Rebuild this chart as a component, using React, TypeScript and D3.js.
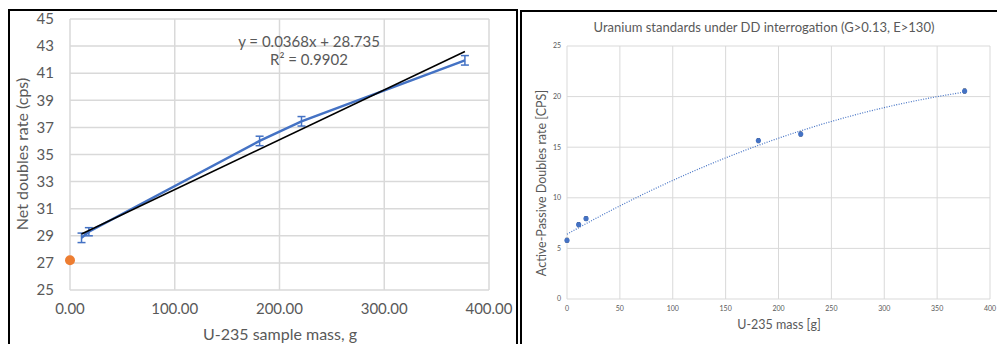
import React from "react";
import * as d3 from "d3";

// ---------- Left chart data ----------
const leftMass = [11, 18, 181, 221, 377];
const leftRate = [28.85, 29.3, 36.0, 37.45, 41.95];
const leftErr = [0.35, 0.3, 0.35, 0.35, 0.35];
const bgMass = [0];
const bgRate = [27.2];
const fitSlope = 0.0368;
const fitIntercept = 28.735;
const fitRange = [11, 377];
const leftYTicks = [25, 27, 29, 31, 33, 35, 37, 39, 41, 43, 45];
const leftXTicks = [0, 100, 200, 300, 400];

// ---------- Right chart data ----------
const rightMass = [0, 11, 18, 181, 221, 376];
const rightRate = [5.8, 7.35, 7.95, 15.65, 16.3, 20.55];
const rightErr = [0.2, 0.2, 0.2, 0.2, 0.2, 0.2];
const polyCoef = [6.4, 0.0589, -0.0000573];
const polyRange = [0, 376];
const rightYTicks = [0, 5, 10, 15, 20, 25];
const rightXTicks = [0, 50, 100, 150, 200, 250, 300, 350, 400];

const FONT = "Lato, 'Open Sans', sans-serif";
const GRAY = "#595959";
const GRID = "#d9d9d9";
const BLUE = "#4472C4";

function LeftChart() {
  const x = d3.scaleLinear().domain([0, 400]).range([70, 489]);
  const y = d3.scaleLinear().domain([25, 45]).range([290, 19]);
  const pts = leftMass.map((m, i) => [x(m), y(leftRate[i])] as [number, number]);
  const line = d3.line();
  return (
    <g>
      <rect x={9} y={10} width={508} height={340} fill="white" stroke="black" strokeWidth={2} />
      {leftYTicks.map((t) => (
        <line key={"gy" + t} x1={70} x2={489} y1={y(t)} y2={y(t)} stroke={GRID} strokeWidth={1.5} />
      ))}
      {leftXTicks.map((t) => (
        <line key={"gx" + t} x1={x(t)} x2={x(t)} y1={19} y2={290} stroke={GRID} strokeWidth={1.5} />
      ))}
      {leftYTicks.map((t) => (
        <text key={"ty" + t} x={54} y={y(t)} dy="0.35em" textAnchor="end" fontSize={15} fill={GRAY} fontFamily={FONT}>
          {t}
        </text>
      ))}
      {leftXTicks.map((t) => (
        <text key={"tx" + t} x={x(t)} y={309} dy="0.35em" textAnchor="middle" fontSize={15} fill={GRAY} fontFamily={FONT}>
          {t.toFixed(2)}
        </text>
      ))}
      <text x={280} y={334} dy="0.35em" textAnchor="middle" fontSize={16} fill={GRAY} fontFamily={FONT}>
        U-235 sample mass, g
      </text>
      <text
        transform={`translate(22,${154}) rotate(-90)`}
        dy="0.35em"
        textAnchor="middle"
        fontSize={16}
        fill={GRAY}
        fontFamily={FONT}
      >
        Net doubles rate (cps)
      </text>
      <path d={line(pts) || ""} fill="none" stroke={BLUE} strokeWidth={2.5} />
      {leftMass.map((m, i) => (
        <g key={"e" + i} stroke={BLUE} strokeWidth={1.5}>
          <line x1={x(m)} x2={x(m)} y1={y(leftRate[i] - leftErr[i])} y2={y(leftRate[i] + leftErr[i])} />
          <line x1={x(m) - 4} x2={x(m) + 4} y1={y(leftRate[i] - leftErr[i])} y2={y(leftRate[i] - leftErr[i])} />
          <line x1={x(m) - 4} x2={x(m) + 4} y1={y(leftRate[i] + leftErr[i])} y2={y(leftRate[i] + leftErr[i])} />
        </g>
      ))}
      <line
        x1={x(fitRange[0])}
        x2={x(fitRange[1])}
        y1={y(fitSlope * fitRange[0] + fitIntercept)}
        y2={y(fitSlope * fitRange[1] + fitIntercept)}
        stroke="black"
        strokeWidth={1.6}
      />
      {bgMass.map((m, i) => (
        <circle key={"bg" + i} cx={x(m)} cy={y(bgRate[i])} r={5} fill="#ED7D31" />
      ))}
      <text x={309} y={42} dy="0.35em" textAnchor="middle" fontSize={15} fill={GRAY} fontFamily={FONT}>
        y = 0.0368x + 28.735
      </text>
      <text x={309} y={60} dy="0.35em" textAnchor="middle" fontSize={15} fill={GRAY} fontFamily={FONT}>
        R² = 0.9902
      </text>
    </g>
  );
}

function RightChart() {
  const x = d3.scaleLinear().domain([0, 400]).range([567, 990]);
  const y = d3.scaleLinear().domain([0, 25]).range([299, 46]);
  const curveX = d3.range(polyRange[0], polyRange[1] + 0.001, 2);
  const curvePts = curveX.map((m) => [x(m), y(polyCoef[0] + polyCoef[1] * m + polyCoef[2] * m * m)] as [number, number]);
  const line = d3.line();
  return (
    <g>
      <rect x={521} y={11} width={480} height={340} fill="white" stroke="black" strokeWidth={2} />
      <text x={764} y={27} dy="0.35em" textAnchor="middle" fontSize={13} fill={GRAY} fontFamily={FONT}>
        Uranium standards under DD interrogation (G&gt;0.13, E&gt;130)
      </text>
      {rightYTicks.map((t) => (
        <line key={"gy" + t} x1={567} x2={990} y1={y(t)} y2={y(t)} stroke={GRID} strokeWidth={1} />
      ))}
      {rightXTicks.map((t) => (
        <line key={"gx" + t} x1={x(t)} x2={x(t)} y1={46} y2={299} stroke={GRID} strokeWidth={1} />
      ))}
      {rightYTicks.map((t) => (
        <text key={"ty" + t} x={561} y={y(t)} dy="0.35em" textAnchor="end" fontSize={7} fill={GRAY} fontFamily={FONT}>
          {t}
        </text>
      ))}
      {rightXTicks.map((t) => (
        <text key={"tx" + t} x={x(t)} y={309} dy="0.35em" textAnchor="middle" fontSize={7} fill={GRAY} fontFamily={FONT}>
          {t}
        </text>
      ))}
      <text x={779} y={325} dy="0.35em" textAnchor="middle" fontSize={12.5} fill={GRAY} fontFamily={FONT}>
        U-235 mass [g]
      </text>
      <text
        transform={`translate(542,${183}) rotate(-90)`}
        dy="0.35em"
        textAnchor="middle"
        fontSize={12.5}
        fill={GRAY}
        fontFamily={FONT}
      >
        Active-Passive Doubles rate [CPS]
      </text>
      <path d={line(curvePts) || ""} fill="none" stroke={BLUE} strokeWidth={1.2} strokeDasharray="1 1.5" />
      {rightMass.map((m, i) => (
        <g key={"p" + i}>
          <line x1={x(m)} x2={x(m)} y1={y(rightRate[i] - rightErr[i])} y2={y(rightRate[i] + rightErr[i])} stroke="#333" strokeWidth={1} />
          <line x1={x(m) - 1.5} x2={x(m) + 1.5} y1={y(rightRate[i] - rightErr[i])} y2={y(rightRate[i] - rightErr[i])} stroke="#333" strokeWidth={1} />
          <line x1={x(m) - 1.5} x2={x(m) + 1.5} y1={y(rightRate[i] + rightErr[i])} y2={y(rightRate[i] + rightErr[i])} stroke="#333" strokeWidth={1} />
          <circle cx={x(m)} cy={y(rightRate[i])} r={2.6} fill={BLUE} />
        </g>
      ))}
    </g>
  );
}

export default function App() {
  return (
    <svg width={997} height={344} style={{ position: "absolute", left: 0, top: 0, background: "white" }}>
      <rect width={997} height={344} fill="white" />
      <LeftChart />
      <RightChart />
    </svg>
  );
}
